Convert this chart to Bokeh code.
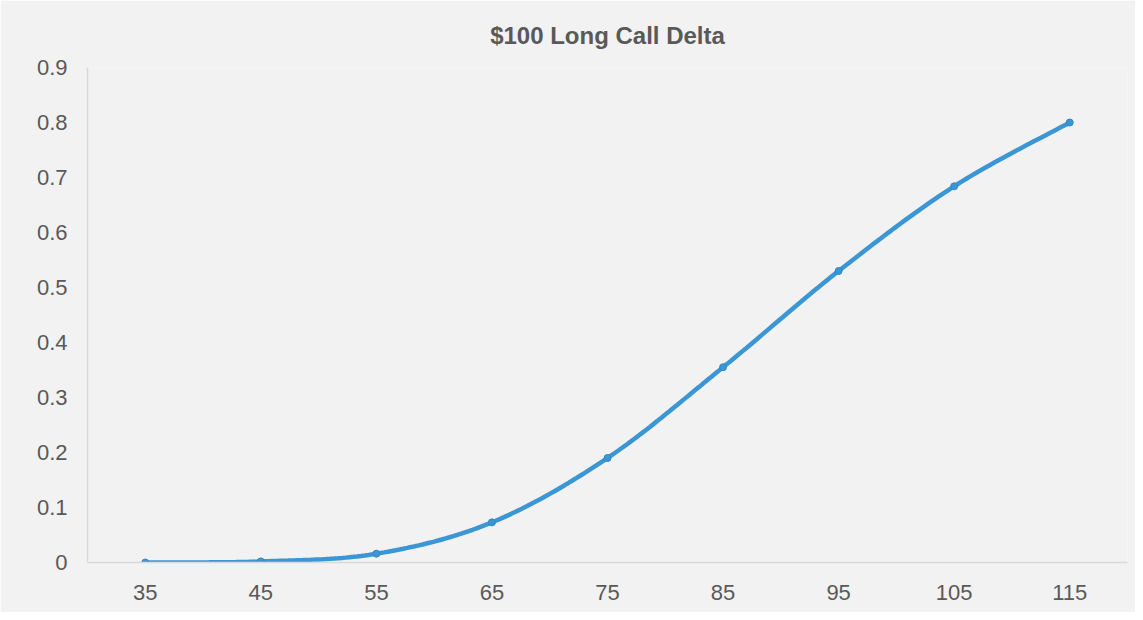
import numpy as np
from bokeh.plotting import figure
from bokeh.models import Range1d, FixedTicker, Title
from bokeh.embed import file_html
from bokeh.resources import INLINE

# Data
strikes = [35, 45, 55, 65, 75, 85, 95, 105, 115]
delta = [0.0, 0.002, 0.016, 0.073, 0.19, 0.355, 0.53, 0.684, 0.80]
y_ticks = [0, 0.1, 0.2, 0.3, 0.4, 0.5, 0.6, 0.7, 0.8, 0.9]
y_tick_labels = ["0", "0.1", "0.2", "0.3", "0.4", "0.5", "0.6", "0.7", "0.8", "0.9"]
title_text = "$100 Long Call Delta"

# Smooth curve (Bezier smoothing like spreadsheet charts) computed from the data
def smooth(xs, ys, n=30):
    xs = np.asarray(xs, float)
    ys = np.asarray(ys, float)
    px = np.concatenate([[xs[0]], xs, [xs[-1]]])
    py = np.concatenate([[ys[0]], ys, [ys[-1]]])
    ox, oy = [], []
    for i in range(1, len(px) - 2):
        p0 = np.array([px[i - 1], py[i - 1]])
        p1 = np.array([px[i], py[i]])
        p2 = np.array([px[i + 1], py[i + 1]])
        p3 = np.array([px[i + 2], py[i + 2]])
        c1 = p1 + (p2 - p0) / 6.0
        c2 = p2 - (p3 - p1) / 6.0
        t = np.linspace(0, 1, n, endpoint=(i == len(px) - 3))
        for tt in t:
            b = ((1 - tt) ** 3) * p1 + 3 * ((1 - tt) ** 2) * tt * c1 + 3 * (1 - tt) * tt ** 2 * c2 + tt ** 3 * p2
            ox.append(b[0])
            oy.append(b[1])
    return ox, oy

sx, sy = smooth(strikes, delta)

BG = "#f2f2f2"
TXT = "#595959"
AX = "#d9d9d9"
BLUE = "#3a96d4"

p = figure(width=1135, height=612, output_backend="svg", toolbar_location=None,
           x_range=Range1d(30, 120), y_range=Range1d(0, 0.9),
           min_border_left=87, min_border_right=8, min_border_top=67, min_border_bottom=50)
p.background_fill_color = BG
p.border_fill_color = BG
p.outline_line_color = None
p.grid.visible = False

t = Title(text=title_text, align="center", text_font="Liberation Sans",
          text_font_size="24px", text_font_style="bold", text_color=TXT, offset=0, standoff=37)
p.add_layout(t, "above")

p.line(sx, sy, line_color=BLUE, line_width=4.5, line_cap="round")
p.scatter(strikes, delta, size=7, fill_color=BLUE, line_color="#3489c4", line_width=1)

p.xaxis.ticker = FixedTicker(ticks=strikes)
p.yaxis.ticker = FixedTicker(ticks=y_ticks)
p.yaxis.major_label_overrides = {v: s for v, s in zip(y_ticks, y_tick_labels)}
for ax in (p.xaxis, p.yaxis):
    ax.axis_line_color = AX
    ax.axis_line_width = 1.5
    ax.major_tick_line_color = None
    ax.minor_tick_line_color = None
    ax.major_label_text_font = "Liberation Sans"
    ax.major_label_text_font_size = "22px"
    ax.major_label_text_color = TXT
p.yaxis.major_label_standoff = 14
p.xaxis.major_label_standoff = 16

open("out.html", "w").write(file_html(p, INLINE))
